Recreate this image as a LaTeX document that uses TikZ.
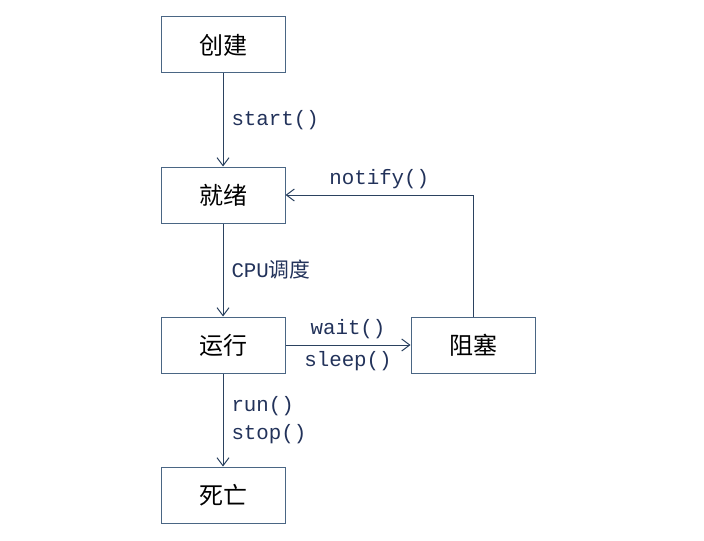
\documentclass[tikz,border=0pt]{standalone}
\usepackage{fontspec}
\setmonofont{Liberation Mono}
\newfontfamily\cjk{Noto Sans CJK SC}
\usepackage{xcolor}
\usetikzlibrary{positioning, arrows.meta}
\definecolor{boxline}{HTML}{4A6684}
\definecolor{arrowline}{HTML}{2B4260}
\definecolor{labeltext}{HTML}{22325A}

\begin{document}
\begin{tikzpicture}[
    node distance=46.5pt,
    state/.style={rectangle, draw=boxline, line width=0.5pt, minimum width=62pt, minimum height=28pt, inner sep=0pt, font=\cjk\fontsize{12}{14}\selectfont},
    trans/.style={->, >={Straight Barb[length=4pt, width=6pt]}, draw=arrowline, line width=0.5pt},
    call/.style={font=\ttfamily\fontsize{10.4}{14}\selectfont, text=labeltext, align=left, inner sep=2pt}
]
\useasboundingbox (0,0) rectangle (352pt,-270pt);

% States
\node[state] (create) at (111.5pt,-22.5pt) {创建};
\node[state, below=of create] (ready) {就绪};
\node[state, below=of ready] (running) {运行};
\node[state, below=of running] (dead) {死亡};
\node[state, right=62.5pt of running] (blocked) {阻塞};

% Transitions
\draw[trans] (create) -- node[call, right=2pt] {start()} (ready);
\draw[trans] (ready) -- node[call, right=2pt] {CPU{\cjk 调度}} (running);
\draw[trans] (running) -- node[call, above=1pt] {wait()} node[call, below=1pt] {sleep()} (blocked);
\draw[trans] (running) -- node[call, right=2pt] {run()\\stop()} (dead);
\draw[trans] (blocked) |- node[call, above=1pt, pos=0.75] {notify()} (ready);

\end{tikzpicture}
\end{document}
